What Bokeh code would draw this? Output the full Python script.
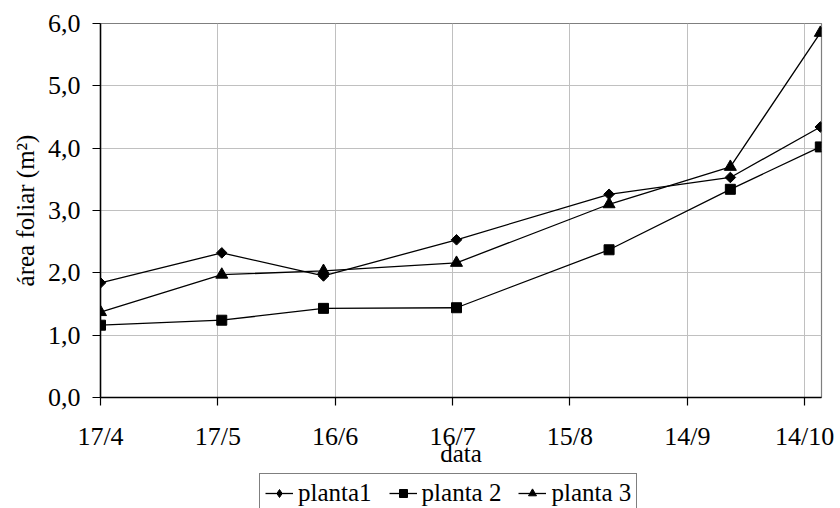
import numpy as np
import pandas as pd
from bokeh.plotting import figure
from bokeh.layouts import column
from bokeh.models import Range1d, FixedTicker, Legend, LegendItem
from bokeh.embed import file_html
from bokeh.resources import INLINE

# Measurement dates and leaf area (m²) of each plant
datas = ["2003-04-17", "2003-05-18", "2003-06-13", "2003-07-17",
         "2003-08-25", "2003-09-25", "2003-10-18"]
planta1 = [1.84, 2.32, 1.95, 2.53, 3.26, 3.53, 4.34]
planta2 = [1.16, 1.24, 1.43, 1.44, 2.37, 3.34, 4.02]
planta3 = [1.37, 1.97, 2.03, 2.16, 3.10, 3.70, 5.85]
nomes = ["planta1", "planta 2", "planta 3"]

tick_datas = ["2003-04-17", "2003-05-17", "2003-06-16", "2003-07-16",
              "2003-08-15", "2003-09-14", "2003-10-14"]
tick_labels = ["17/4", "17/5", "16/6", "16/7", "15/8", "14/9", "14/10"]
y_ticks = [0, 1, 2, 3, 4, 5, 6]
y_labels = ["0,0", "1,0", "2,0", "3,0", "4,0", "5,0", "6,0"]

origin = pd.Timestamp(datas[0])
dias = [(pd.Timestamp(d) - origin).days for d in datas]
tick_dias = [(pd.Timestamp(d) - origin).days for d in tick_datas]

FONT = "Liberation Serif"
W = 840
H_PLOT = 472
H_LEG = 36

p = figure(width=W, height=H_PLOT, output_backend="svg", toolbar_location=None,
           x_range=Range1d(0, 184.3), y_range=Range1d(0, 6),
           min_border_left=100, min_border_right=19,
           min_border_top=23, min_border_bottom=H_PLOT - 397)
p.background_fill_color = "white"
p.border_fill_color = "white"
p.outline_line_color = "#7f7f7f"
p.outline_line_width = 1.2

# axes
p.xaxis.ticker = FixedTicker(ticks=tick_dias)
p.xaxis.major_label_overrides = {t: l for t, l in zip(tick_dias, tick_labels)}
p.yaxis.ticker = FixedTicker(ticks=y_ticks)
p.yaxis.major_label_overrides = {t: l for t, l in zip(y_ticks, y_labels)}
for ax in (p.xaxis, p.yaxis):
    ax.axis_line_color = "black"
    ax.axis_line_width = 1.5
    ax.major_tick_line_color = "black"
    ax.major_tick_line_width = 1.2
    ax.major_tick_in = 0
    ax.major_tick_out = 8
    ax.minor_tick_line_color = None
    ax.major_label_text_font = FONT
    ax.major_label_text_font_size = "26px"
    ax.major_label_text_color = "black"
    ax.axis_label_text_font = FONT
    ax.axis_label_text_font_size = "25px"
    ax.axis_label_text_font_style = "normal"
    ax.axis_label_text_color = "black"
p.xaxis.major_label_standoff = 16
p.yaxis.major_label_standoff = 12
p.xaxis.axis_label = "data"
p.xaxis.axis_label_standoff = -14
p.yaxis.axis_label = "área foliar (m²)"
p.yaxis.axis_label_standoff = 6

p.xgrid.grid_line_color = "#c0c0c0"
p.ygrid.grid_line_color = "#c0c0c0"
p.xgrid.grid_line_width = 1
p.ygrid.grid_line_width = 1

# marker style per series: (marker, size, angle) on the chart,
# (marker, size) in the legend
estilos = [("square", 7.5, np.pi / 4), ("square", 10, 0), ("triangle", 12, 0)]
estilos_legenda = [("diamond", 10.5), ("square", 8.5), ("triangle", 10)]

for vals, (marker, size, ang) in zip([planta1, planta2, planta3], estilos):
    p.line(dias, vals, line_color="black", line_width=1.3)
    p.scatter(dias, vals, marker=marker, size=size, angle=ang,
              fill_color="black", line_color="black")

# legend strip below the chart; its renderers sit outside the visible range
pl = figure(width=W, height=H_LEG, output_backend="svg", toolbar_location=None,
            x_range=Range1d(0, 1), y_range=Range1d(0, 1), min_border=0)
pl.axis.visible = False
pl.grid.visible = False
pl.outline_line_color = None
pl.background_fill_color = "white"
pl.border_fill_color = "white"

items = []
for nome, (marker, size) in zip(nomes, estilos_legenda):
    ln = pl.line([-5, -4], [-5, -4], line_color="black", line_width=1.3)
    sc = pl.scatter([-5], [-5], marker=marker, size=size,
                    fill_color="black", line_color="black")
    items.append(LegendItem(label=nome, renderers=[ln, sc]))

legend = Legend(items=items, orientation="horizontal",
                location=(159, -5), margin=0, padding=5,
                spacing=17, glyph_width=28, glyph_height=20,
                label_height=20, label_standoff=5,
                label_text_font=FONT, label_text_font_size="25px",
                label_text_color="black",
                border_line_color="black", border_line_width=1,
                background_fill_color="white", background_fill_alpha=1)
pl.add_layout(legend, "center")

layout = column(p, pl, spacing=0)
open("out.html", "w").write(file_html(layout, INLINE))
